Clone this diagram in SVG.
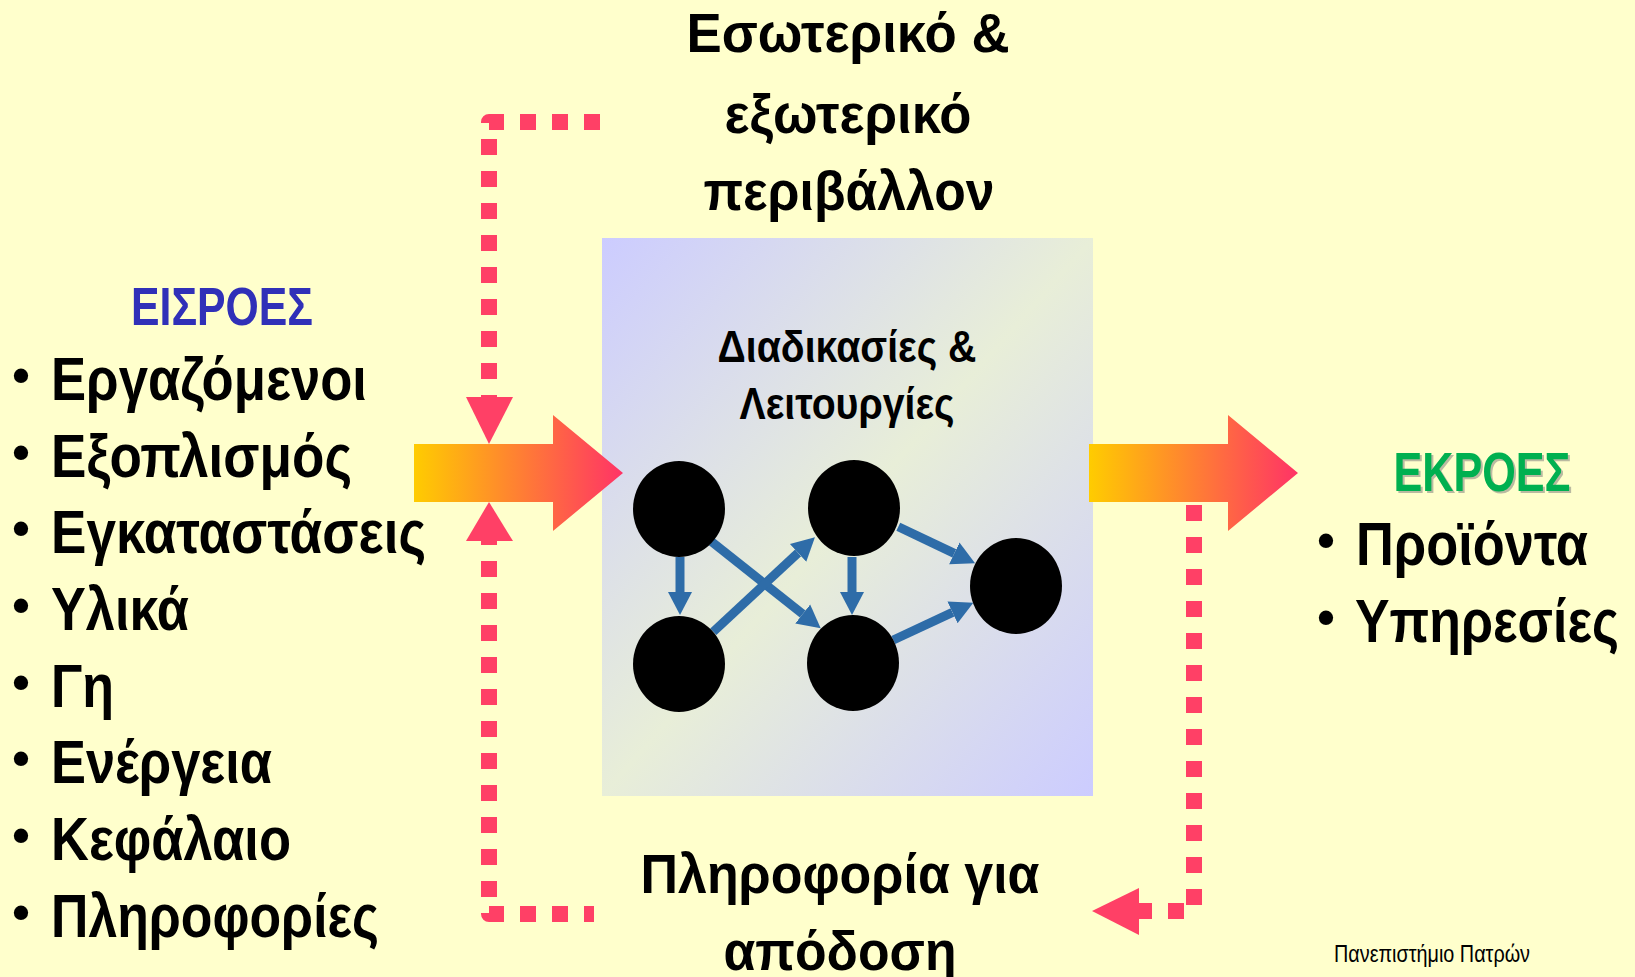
<svg xmlns="http://www.w3.org/2000/svg" width="1635" height="977" viewBox="0 0 1635 977">
<style>
.t{font-family:"Liberation Sans",Arial,sans-serif;font-weight:bold;fill:#000}
.big{font-size:56px}
.item{font-size:62px}
.bul{font-size:50px}
.box{font-size:44px}
.dash{fill:none;stroke:#FF4066;stroke-width:16;stroke-dasharray:16 16;stroke-linejoin:round}
.pink{fill:#FF4066}
.edge{stroke:#2E6CA8;stroke-width:9;fill:none;marker-end:url(#ah)}
.node{fill:#000}
</style>
<defs>
<linearGradient id="boxg" x1="0" y1="0" x2="1" y2="1">
<stop offset="0" stop-color="#CCCCFF"/>
<stop offset="0.5" stop-color="#E8EED8"/>
<stop offset="1" stop-color="#CCCCFF"/>
</linearGradient>
<linearGradient id="arrg" x1="0" y1="0" x2="1" y2="0">
<stop offset="0" stop-color="#FFCC00"/>
<stop offset="1" stop-color="#FF3366"/>
</linearGradient>
<marker id="ah" markerUnits="userSpaceOnUse" markerWidth="24" markerHeight="26" refX="0" refY="12" orient="auto" viewBox="0 0 24 24">
<path d="M0,0 L23,12 L0,24 Z" fill="#2E6CA8"/>
</marker>
</defs>
<rect width="1635" height="977" fill="#FFFFCC"/>

<g id="environment-title">
<text class="t big" x="848" y="52" text-anchor="middle" textLength="323" lengthAdjust="spacingAndGlyphs">Εσωτερικό &amp;</text>
<text class="t big" x="848" y="133" text-anchor="middle" textLength="247" lengthAdjust="spacingAndGlyphs">εξωτερικό</text>
<text class="t big" x="849" y="210" text-anchor="middle" textLength="291" lengthAdjust="spacingAndGlyphs">περιβάλλον</text>
</g>

<g id="process-box">
<rect x="602" y="238" width="491" height="558" fill="url(#boxg)"/>
<text class="t box" x="847" y="362" text-anchor="middle" textLength="259" lengthAdjust="spacingAndGlyphs">Διαδικασίες &amp;</text>
<text class="t box" x="847" y="419" text-anchor="middle" textLength="215" lengthAdjust="spacingAndGlyphs">Λειτουργίες</text>
</g>

<g id="input-arrow">
<polygon points="414,444 553,444 553,415 623,473 553,531 553,502 414,502" fill="url(#arrg)"/>
</g>
<g id="output-arrow">
<polygon points="1089,444 1228,444 1228,415 1298,473 1228,531 1228,502 1089,502" fill="url(#arrg)"/>
</g>

<g id="connectors">
<path class="dash" d="M600,122 H489 V400"/>
<polygon class="pink" points="466,397 513,397 489,444"/>
<path class="dash" d="M489,529 V914 H594"/>
<polygon class="pink" points="489,502 513,541 466,541"/>
<path class="dash" d="M1194,505 V911 H1139"/>
<polygon class="pink" points="1139,888 1139,935 1092,911"/>
<line class="edge" x1="680" y1="557" x2="680" y2="592"/>
<line class="edge" x1="852" y1="557" x2="852" y2="592"/>
<line class="edge" x1="711.7" y1="541.7" x2="802.7" y2="614"/>
<line class="edge" x1="713.3" y1="631.7" x2="798.1" y2="552.9"/>
<line class="edge" x1="898.3" y1="526.7" x2="954.3" y2="553.4"/>
<line class="edge" x1="893.3" y1="640" x2="952.5" y2="612.4"/>
</g>

<g id="n1"><ellipse class="node" cx="679" cy="509" rx="46" ry="48"/></g>
<g id="n2"><ellipse class="node" cx="679" cy="664" rx="46" ry="48"/></g>
<g id="n3"><ellipse class="node" cx="854" cy="508" rx="46" ry="48"/></g>
<g id="n4"><ellipse class="node" cx="853" cy="663" rx="46" ry="48"/></g>
<g id="n5"><ellipse class="node" cx="1016" cy="586" rx="46" ry="48"/></g>

<g id="inputs">
<text class="t" x="222" y="325" text-anchor="middle" font-size="54" style="fill:#3030B8" textLength="182" lengthAdjust="spacingAndGlyphs">ΕΙΣΡΟΕΣ</text>
<text class="t bul" x="21" y="392" text-anchor="middle">•</text>
<text class="t item" x="51" y="400" textLength="316" lengthAdjust="spacingAndGlyphs">Εργαζόμενοι</text>
<text class="t bul" x="21" y="469" text-anchor="middle">•</text>
<text class="t item" x="51" y="477" textLength="301" lengthAdjust="spacingAndGlyphs">Εξοπλισμός</text>
<text class="t bul" x="21" y="545" text-anchor="middle">•</text>
<text class="t item" x="51" y="553" textLength="375" lengthAdjust="spacingAndGlyphs">Εγκαταστάσεις</text>
<text class="t bul" x="21" y="622" text-anchor="middle">•</text>
<text class="t item" x="51" y="630" textLength="138" lengthAdjust="spacingAndGlyphs">Υλικά</text>
<text class="t bul" x="21" y="699" text-anchor="middle">•</text>
<text class="t item" x="51" y="707" textLength="63" lengthAdjust="spacingAndGlyphs">Γη</text>
<text class="t bul" x="21" y="775" text-anchor="middle">•</text>
<text class="t item" x="51" y="783" textLength="221" lengthAdjust="spacingAndGlyphs">Ενέργεια</text>
<text class="t bul" x="21" y="852" text-anchor="middle">•</text>
<text class="t item" x="51" y="860" textLength="240" lengthAdjust="spacingAndGlyphs">Κεφάλαιο</text>
<text class="t bul" x="21" y="929" text-anchor="middle">•</text>
<text class="t item" x="51" y="937" textLength="328" lengthAdjust="spacingAndGlyphs">Πληροφορίες</text>
</g>

<g id="outputs">
<text class="t" x="1484" y="493" text-anchor="middle" font-size="55" style="fill:#777;opacity:0.5" textLength="177" lengthAdjust="spacingAndGlyphs">ΕΚΡΟΕΣ</text>
<text class="t" x="1482" y="491" text-anchor="middle" font-size="55" style="fill:#00B050" textLength="177" lengthAdjust="spacingAndGlyphs">ΕΚΡΟΕΣ</text>
<text class="t bul" x="1326" y="557" text-anchor="middle">•</text>
<text class="t item" x="1356" y="565" textLength="232" lengthAdjust="spacingAndGlyphs">Προϊόντα</text>
<text class="t bul" x="1326" y="634" text-anchor="middle">•</text>
<text class="t item" x="1355" y="642" textLength="264" lengthAdjust="spacingAndGlyphs">Υπηρεσίες</text>
</g>

<g id="feedback-label">
<text class="t big" x="840" y="893" text-anchor="middle" textLength="399" lengthAdjust="spacingAndGlyphs">Πληροφορία για</text>
<text class="t big" x="840" y="970" text-anchor="middle" textLength="233" lengthAdjust="spacingAndGlyphs">απόδοση</text>
</g>

<g id="footer">
<text x="1334" y="962" font-family="Liberation Sans, Arial, sans-serif" font-size="23" fill="#000" textLength="196" lengthAdjust="spacingAndGlyphs">Πανεπιστήμιο Πατρών</text>
</g>
</svg>
